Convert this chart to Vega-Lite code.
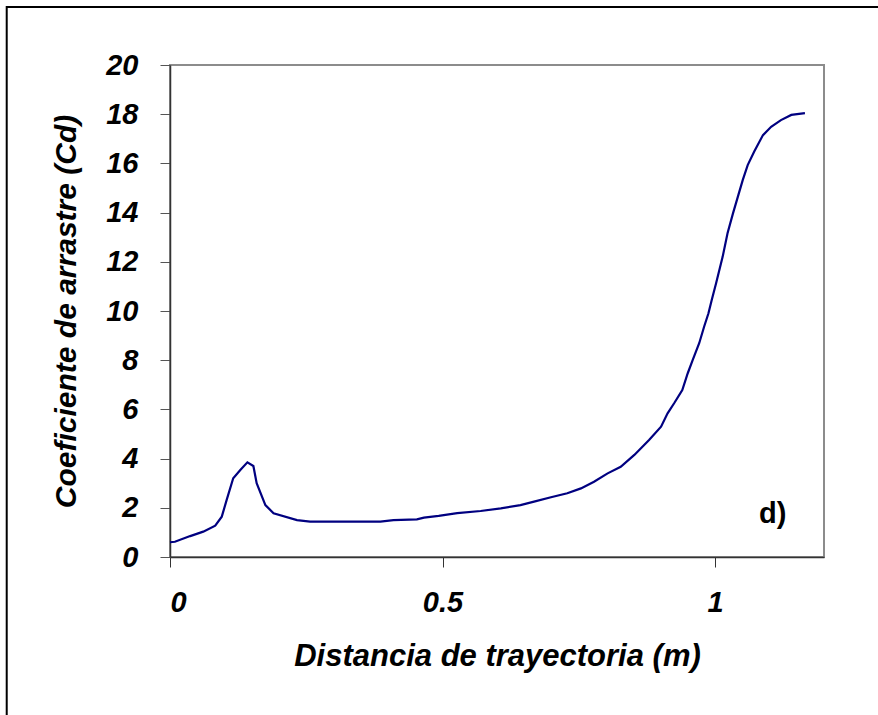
{
  "$schema": "https://vega.github.io/schema/vega-lite/v6.json",
  "width": 654,
  "height": 492,
  "autosize": {"type": "none"},
  "padding": {"left": 170, "top": 65, "right": 54, "bottom": 158},
  "background": "white",
  "config": {
    "view": {"stroke": "#8c8c8c", "strokeWidth": 2},
    "font": "Liberation Sans"
  },
  "data": {
    "values": [
      {"x": 0, "y": 0.6}, {"x": 0.009, "y": 0.62}, {"x": 0.037, "y": 0.85}, {"x": 0.061, "y": 1.03},
      {"x": 0.083, "y": 1.27}, {"x": 0.095, "y": 1.64}, {"x": 0.104, "y": 2.32}, {"x": 0.116, "y": 3.2},
      {"x": 0.129, "y": 3.54}, {"x": 0.142, "y": 3.85}, {"x": 0.153, "y": 3.7}, {"x": 0.159, "y": 3.0},
      {"x": 0.175, "y": 2.11}, {"x": 0.19, "y": 1.78}, {"x": 0.233, "y": 1.5}, {"x": 0.257, "y": 1.44},
      {"x": 0.349, "y": 1.44}, {"x": 0.386, "y": 1.44}, {"x": 0.41, "y": 1.5}, {"x": 0.453, "y": 1.53},
      {"x": 0.466, "y": 1.6}, {"x": 0.493, "y": 1.67}, {"x": 0.527, "y": 1.78}, {"x": 0.57, "y": 1.87},
      {"x": 0.607, "y": 1.98}, {"x": 0.643, "y": 2.11}, {"x": 0.668, "y": 2.25}, {"x": 0.699, "y": 2.43},
      {"x": 0.729, "y": 2.59}, {"x": 0.754, "y": 2.79}, {"x": 0.778, "y": 3.06}, {"x": 0.803, "y": 3.4},
      {"x": 0.827, "y": 3.67}, {"x": 0.852, "y": 4.15}, {"x": 0.879, "y": 4.76}, {"x": 0.901, "y": 5.3},
      {"x": 0.913, "y": 5.84}, {"x": 0.925, "y": 6.25}, {"x": 0.94, "y": 6.79}, {"x": 0.95, "y": 7.47},
      {"x": 0.959, "y": 8.0}, {"x": 0.971, "y": 8.69}, {"x": 0.98, "y": 9.36}, {"x": 0.988, "y": 9.91},
      {"x": 0.994, "y": 10.45}, {"x": 1.002, "y": 11.13}, {"x": 1.014, "y": 12.2}, {"x": 1.023, "y": 13.16},
      {"x": 1.033, "y": 13.97}, {"x": 1.042, "y": 14.65}, {"x": 1.051, "y": 15.33}, {"x": 1.06, "y": 15.93},
      {"x": 1.072, "y": 16.48}, {"x": 1.088, "y": 17.15}, {"x": 1.103, "y": 17.49}, {"x": 1.121, "y": 17.76},
      {"x": 1.14, "y": 17.97}, {"x": 1.165, "y": 18.04}
    ]
  },
  "layer": [
    {
      "mark": {"type": "line", "color": "#000080", "strokeWidth": 2.2, "clip": false},
      "encoding": {
        "x": {
          "field": "x", "type": "quantitative",
          "scale": {"domain": [0, 1.2], "nice": false, "zero": false},
          "axis": {
            "title": "Distancia de trayectoria (m)",
            "values": [0, 0.5, 1],
            "format": "~g",
            "grid": false,
            "domainColor": "#333333", "domainWidth": 1.5,
            "tickColor": "#333333", "tickSize": 10, "tickWidth": 1,
            "labelFont": "Liberation Sans", "labelFontSize": 29, "labelFontStyle": "italic", "labelFontWeight": "bold",
            "labelColor": "black", "labelPadding": 21,
            "titleFont": "Liberation Sans", "titleFontSize": 31, "titleFontStyle": "italic", "titleFontWeight": "bold",
            "titleColor": "black", "titlePadding": 24
          }
        },
        "y": {
          "field": "y", "type": "quantitative",
          "scale": {"domain": [0, 20], "nice": false},
          "axis": {
            "title": "Coeficiente de arrastre (Cd)",
            "values": [0, 2, 4, 6, 8, 10, 12, 14, 16, 18, 20],
            "grid": false,
            "domainColor": "#333333", "domainWidth": 1.5,
            "tickColor": "#555555", "tickSize": 10, "tickWidth": 1,
            "labelFont": "Liberation Sans", "labelFontSize": 29, "labelFontStyle": "italic", "labelFontWeight": "bold",
            "labelColor": "black", "labelPadding": 22,
            "titleFont": "Liberation Sans", "titleFontSize": 30, "titleFontStyle": "italic", "titleFontWeight": "bold",
            "titleColor": "black", "titlePadding": 24
          }
        }
      }
    },
    {
      "data": {"values": [{"label": "d)", "x": 1.106, "y": 1.38}]},
      "mark": {"type": "text", "font": "Liberation Sans", "fontSize": 29, "fontWeight": "bold", "align": "center", "baseline": "alphabetic", "color": "black"},
      "encoding": {
        "x": {"field": "x", "type": "quantitative"},
        "y": {"field": "y", "type": "quantitative"},
        "text": {"field": "label"}
      }
    },
    {
      "data": {"values": [{"x1": -0.2996, "x2": 1.4, "y1": 22.36, "y2": -8}]},
      "mark": {"type": "rect", "fill": null, "fillOpacity": 0, "stroke": "black", "strokeWidth": 2, "clip": false},
      "encoding": {
        "x": {"field": "x1", "type": "quantitative"},
        "x2": {"field": "x2"},
        "y": {"field": "y1", "type": "quantitative"},
        "y2": {"field": "y2"}
      }
    }
  ]
}
